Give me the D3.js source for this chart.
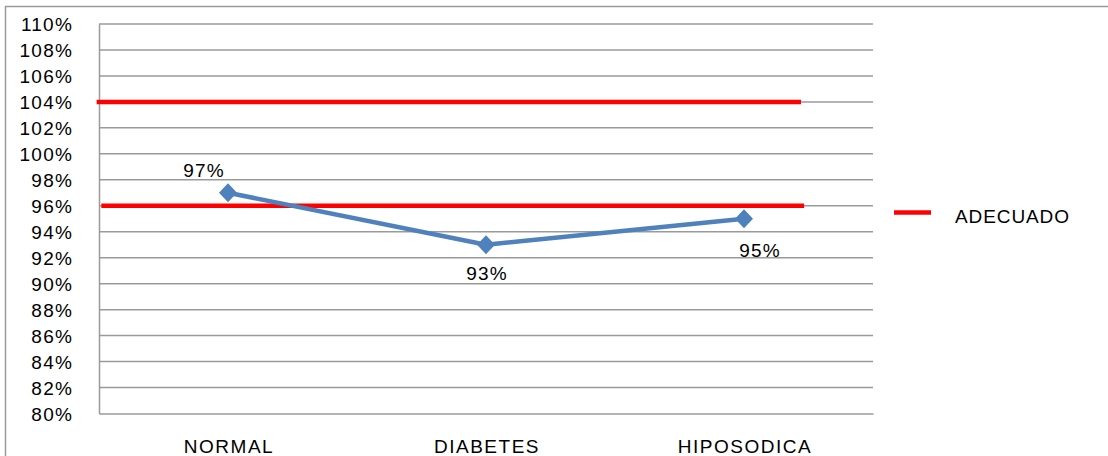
<!DOCTYPE html>
<html>
<head>
<meta charset="utf-8">
<script src="https://cdn.jsdelivr.net/npm/d3@7"></script>
<style>
  html, body { margin: 0; padding: 0; background: #fff; }
  svg text { font-family: "Liberation Sans", Arial, sans-serif; fill: #000; }
</style>
</head>
<body>
<svg id="chart" width="1108" height="456"></svg>
<script>
// Chart data
const categories = ["NORMAL", "DIABETES", "HIPOSODICA"];
const values = [97, 93, 95];                 // % per diet
const valueLabels = ["97%", "93%", "95%"];
const adequateRange = [104, 96];             // ADECUADO limits (%)
const yTicks = [80, 82, 84, 86, 88, 90, 92, 94, 96, 98, 100, 102, 104, 106, 108, 110];
const legendLabel = "ADECUADO";

const svg = d3.select("#chart");
const plotLeft = 99, plotRight = 873, plotTop = 24, plotBottom = 413.5;

// outer chart frame
svg.append("rect")
  .attr("x", 5.5).attr("y", 6.5).attr("width", 1120).attr("height", 470)
  .attr("fill", "none").attr("stroke", "#9a9a9a").attr("stroke-width", 1.5);

const x = d3.scaleBand().domain(categories).range([plotLeft, plotRight]);
const y = d3.scaleLinear().domain([80, 110]).range([plotBottom, plotTop]);

// horizontal gridlines
svg.append("g").selectAll("line").data(yTicks.filter(t => t > 80)).join("line")
  .attr("x1", plotLeft).attr("x2", plotRight)
  .attr("y1", d => y(d)).attr("y2", d => y(d))
  .attr("stroke", "#9a9a9a").attr("stroke-width", 1.5);

// y axis (labels only, plus axis line)
const yAxis = d3.axisLeft(y).tickValues(yTicks).tickSize(0).tickPadding(26)
  .tickFormat(d => d + "%");
const gy = svg.append("g").attr("transform", `translate(${plotLeft},0)`).call(yAxis);
gy.select(".domain").attr("stroke", "#9a9a9a").attr("stroke-width", 1.5);
gy.selectAll("text").attr("font-size", 19).attr("letter-spacing", 1.2)
  .style("font-family", "'Liberation Sans', Arial, sans-serif").attr("dy", "0.36em");

// x axis
const xAxis = d3.axisBottom(x).tickSize(0).tickPadding(0);
const gx = svg.append("g").attr("transform", `translate(0,${plotBottom})`).call(xAxis);
gx.select(".domain").attr("stroke", "#9a9a9a").attr("stroke-width", 1.5);
gx.selectAll("text").attr("font-size", 19).attr("letter-spacing", 1.5)
  .style("font-family", "'Liberation Sans', Arial, sans-serif")
  .attr("y", 39).attr("dy", 0).attr("dx", 1);

// ADECUADO reference lines
const span = plotRight - plotLeft;
const refSegments = [[-0.003, 0.907], [0.003, 0.911]];
svg.append("g").selectAll("line").data(adequateRange).join("line")
  .attr("x1", (d, i) => plotLeft + span * refSegments[i][0])
  .attr("x2", (d, i) => plotLeft + span * refSegments[i][1])
  .attr("y1", d => y(d)).attr("y2", d => y(d))
  .attr("stroke", "#ff0000").attr("stroke-width", 4.5);

// series line
const pts = categories.map((c, i) => ({ c, v: values[i], label: valueLabels[i] }));
const cx = d => x(d.c) + x.bandwidth() / 2;
svg.append("path").datum(pts)
  .attr("fill", "none").attr("stroke", "#4f81bd").attr("stroke-width", 4.5)
  .attr("stroke-linejoin", "round")
  .attr("d", d3.line().x(cx).y(d => y(d.v)));

// diamond markers
svg.append("g").selectAll("path").data(pts).join("path")
  .attr("transform", d => `translate(${cx(d)},${y(d.v)})`)
  .attr("d", "M0,-9.5L9,0L0,9.5L-9,0Z")
  .attr("fill", "#4f81bd");

// value labels
const labelOffsets = [[-24, -16], [1, 35], [16, 38]];
svg.append("g").selectAll("text").data(pts).join("text")
  .attr("x", (d, i) => cx(d) + labelOffsets[i][0])
  .attr("y", (d, i) => y(d.v) + labelOffsets[i][1])
  .attr("text-anchor", "middle").attr("font-size", 19).attr("letter-spacing", 1.2)
  .text(d => d.label);

// legend
svg.append("line").attr("x1", 894).attr("x2", 931).attr("y1", 212.5).attr("y2", 212.5)
  .attr("stroke", "#ff0000").attr("stroke-width", 4.5);
svg.append("text").attr("x", 955).attr("y", 223).attr("font-size", 19).attr("letter-spacing", 0.9)
  .text(legendLabel);
</script>
</body>
</html>
